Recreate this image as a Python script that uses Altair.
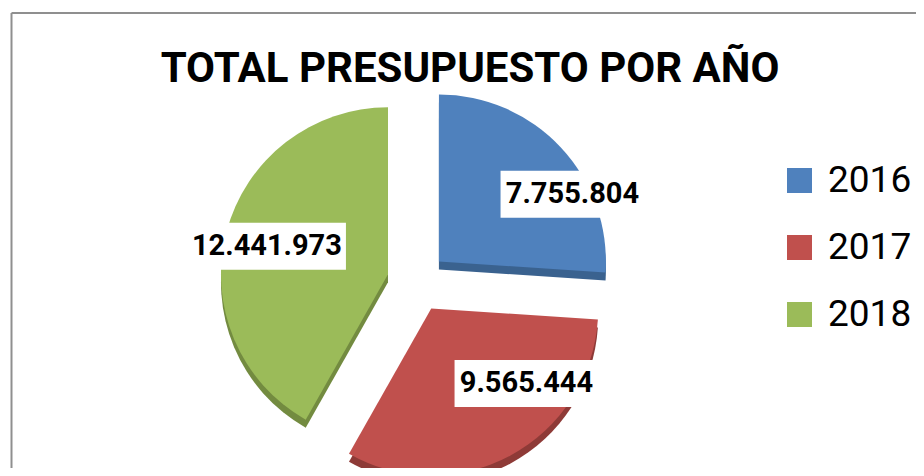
import altair as alt
import pandas as pd

# ---- data ----
years = ["2016", "2017", "2018"]
values = [7755804, 9565444, 12441973]

# ---- style ----
colors = ["#4F81BD", "#C0504D", "#9BBB59"]
side_colors = ["#3A628F", "#8E3A37", "#738B40"]
CX, CY = 409, 274      # pie centre in plot pixels
R = 167                # pie radius
EXPLODE = 30           # slice explosion distance
DEPTH = 8              # fake 3D thickness
LABEL_CX, LABEL_CY = 433, 269   # centre of the label ellipse
LABEL_RX, LABEL_RY = 180, 121   # label distance from centre (horizontal / vertical)

df = pd.DataFrame({"year": years, "value": values})

base = (
    alt.Chart(df)
    .transform_joinaggregate(total="sum(value)")
    .transform_window(cum="sum(value)", sort=[alt.SortField("year")], frame=[None, 0])
    .transform_calculate(t0="2*PI*(datum.cum - datum.value)/datum.total")
    .transform_calculate(t1="2*PI*datum.cum/datum.total")
    .transform_calculate(mid="(datum.t0 + datum.t1)/2")
    .transform_calculate(px=f"{CX} + {EXPLODE}*sin(datum.mid)")
    .transform_calculate(py=f"{CY} - {EXPLODE}*cos(datum.mid)")
    .transform_calculate(py_side=f"datum.py + {DEPTH}")
    .transform_calculate(lx=f"{LABEL_CX} + {LABEL_RX}*sin(datum.mid)")
    .transform_calculate(ly=f"{LABEL_CY} - {LABEL_RY}*cos(datum.mid)")
    .transform_calculate(label="replace(format(datum.value, ','), regexp(',', 'g'), '.')")
    .transform_calculate(bx0="datum.lx - (length(datum.label)*14.2 + 16)/2")
    .transform_calculate(bx1="datum.lx + (length(datum.label)*14.2 + 16)/2")
    .transform_calculate(by0="datum.ly - 23.5")
    .transform_calculate(by1="datum.ly + 23.5")
)

theta = alt.Theta("t0:Q", scale=None, stack=None)
theta2 = alt.Theta2("t1:Q")

side = base.mark_arc(radius=R).encode(
    x=alt.X("px:Q", scale=None, axis=None),
    y=alt.Y("py_side:Q", scale=None, axis=None),
    theta=theta,
    theta2=theta2,
    color=alt.Color("year:N", scale=alt.Scale(domain=years, range=side_colors), legend=None),
)

top = base.mark_arc(radius=R).encode(
    x=alt.X("px:Q", scale=None, axis=None),
    y=alt.Y("py:Q", scale=None, axis=None),
    theta=theta,
    theta2=theta2,
    color=alt.Color(
        "year:N",
        scale=alt.Scale(domain=years, range=colors),
        legend=alt.Legend(
            title=None,
            orient="none",
            legendX=773,
            legendY=154,
            symbolType="square",
            symbolSize=625,
            symbolStrokeWidth=0,
            labelFont="Roboto",
            labelFontSize=37,
            labelColor="black",
            labelOffset=10,
            rowPadding=29,
            labelLimit=300,
        ),
    ),
)

boxes = base.mark_rect(color="white").encode(
    x=alt.X("bx0:Q", scale=None, axis=None),
    x2="bx1:Q",
    y=alt.Y("by0:Q", scale=None, axis=None),
    y2="by1:Q",
)

labels = base.mark_text(
    font="Roboto", fontWeight="bold", fontSize=29, color="black",
    align="center", baseline="middle",
).encode(
    x=alt.X("lx:Q", scale=None, axis=None),
    y=alt.Y("ly:Q", scale=None, axis=None),
    text="label:N",
)

frame_src = alt.Data(values=[{"k": 1}])
border_left = alt.Chart(frame_src).mark_rule(color="#8F8F8F", strokeWidth=2).encode(
    x=alt.value(3.5), x2=alt.value(3.5), y=alt.value(5), y2=alt.value(470)
)
border_top = alt.Chart(frame_src).mark_rule(color="#8F8F8F", strokeWidth=2).encode(
    x=alt.value(3.5), x2=alt.value(912), y=alt.value(5), y2=alt.value(5)
)

chart = (
    alt.layer(border_left, border_top, side, top, boxes, labels)
    .resolve_scale(color="independent")
    .properties(
        width=908,
        height=460,
        padding=0,
        autosize=alt.AutoSizeParams(type="none"),
        title=alt.Title(
            "TOTAL PRESUPUESTO POR AÑO",
            font="Roboto",
            fontWeight="bold",
            fontSize=42,
            color="black",
            anchor="middle",
            frame="group",
            baseline="alphabetic",
            offset=-116,
            dx=8,
        ),
    )
    .configure_view(stroke=None)
)

chart.save("out.html", embed_options={"renderer": "svg", "actions": False})
